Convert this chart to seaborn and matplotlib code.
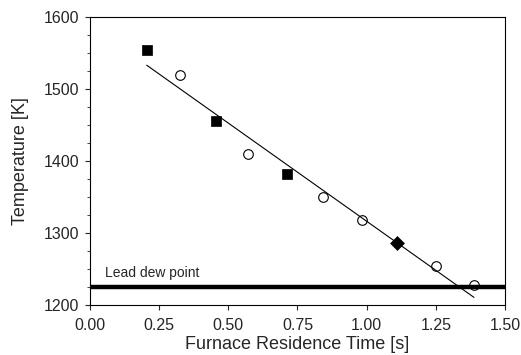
import numpy as np
import pandas as pd
import matplotlib
matplotlib.use("Agg")
import matplotlib.pyplot as plt
import seaborn as sns
from matplotlib.ticker import MultipleLocator

# values
square_t = [0.205, 0.455, 0.711]
square_T = [1554, 1456, 1381]
circle_t = [0.325, 0.572, 0.841, 0.982, 1.250, 1.389]
circle_T = [1520, 1410, 1350, 1317, 1253, 1227]
diamond_t = [1.108]
diamond_T = [1286]
fit_t = [0.205, 1.388]
fit_T = [1533, 1210]
dew_T = 1224
dew_label = "Lead dew point"

sns.set_style("ticks")
plt.rcParams['font.family'] = ['Liberation Sans', 'DejaVu Sans']

fig = plt.figure(figsize=(5.21, 3.55), dpi=100)
ax = fig.add_axes([0.1727, 0.142, 0.7966, 0.810])

sns.lineplot(x=fit_t, y=fit_T, color="black", linewidth=0.8, ax=ax, zorder=5)
sns.scatterplot(x=square_t, y=square_T, marker="s", s=60, color="black",
                edgecolor="black", linewidth=0.5, zorder=3, ax=ax)
sns.scatterplot(x=circle_t, y=circle_T, marker="o", s=48, facecolor="white",
                edgecolor="black", linewidth=0.8, zorder=3, ax=ax)
sns.scatterplot(x=diamond_t, y=diamond_T, marker="D", s=50, color="black",
                edgecolor="black", linewidth=0.5, zorder=3, ax=ax)
ax.axhline(dew_T, color="black", linewidth=3.2, zorder=4)

ax.text(0.054, dew_T + 10, dew_label, fontsize=10, va="bottom", ha="left")

ax.set_xlim(0, 1.5)
ax.set_ylim(1200, 1600)
ax.yaxis.set_major_locator(MultipleLocator(100))
ax.yaxis.set_minor_locator(MultipleLocator(25))
ax.set_xticks([0, 0.25, 0.5, 0.75, 1.0, 1.25, 1.5])
ax.set_xticklabels(["0.00", "0.25", "0.50", "0.75", "1.00", "1.25", "1.50"])
ax.tick_params(axis="both", which="major", direction="out", length=3.5,
               width=0.8, labelsize=11.5, pad=4)
ax.tick_params(axis="y", which="minor", direction="out", length=2, width=0.6)
ax.tick_params(axis="x", pad=6)

for sp in ax.spines.values():
    sp.set_visible(True)
    sp.set_linewidth(0.8)
    sp.set_color("black")

ax.set_xlabel("Furnace Residence Time [s]", fontsize=13, labelpad=2)
ax.set_ylabel("Temperature [K]", fontsize=13, labelpad=11)

fig.savefig("out.png", dpi=100)
